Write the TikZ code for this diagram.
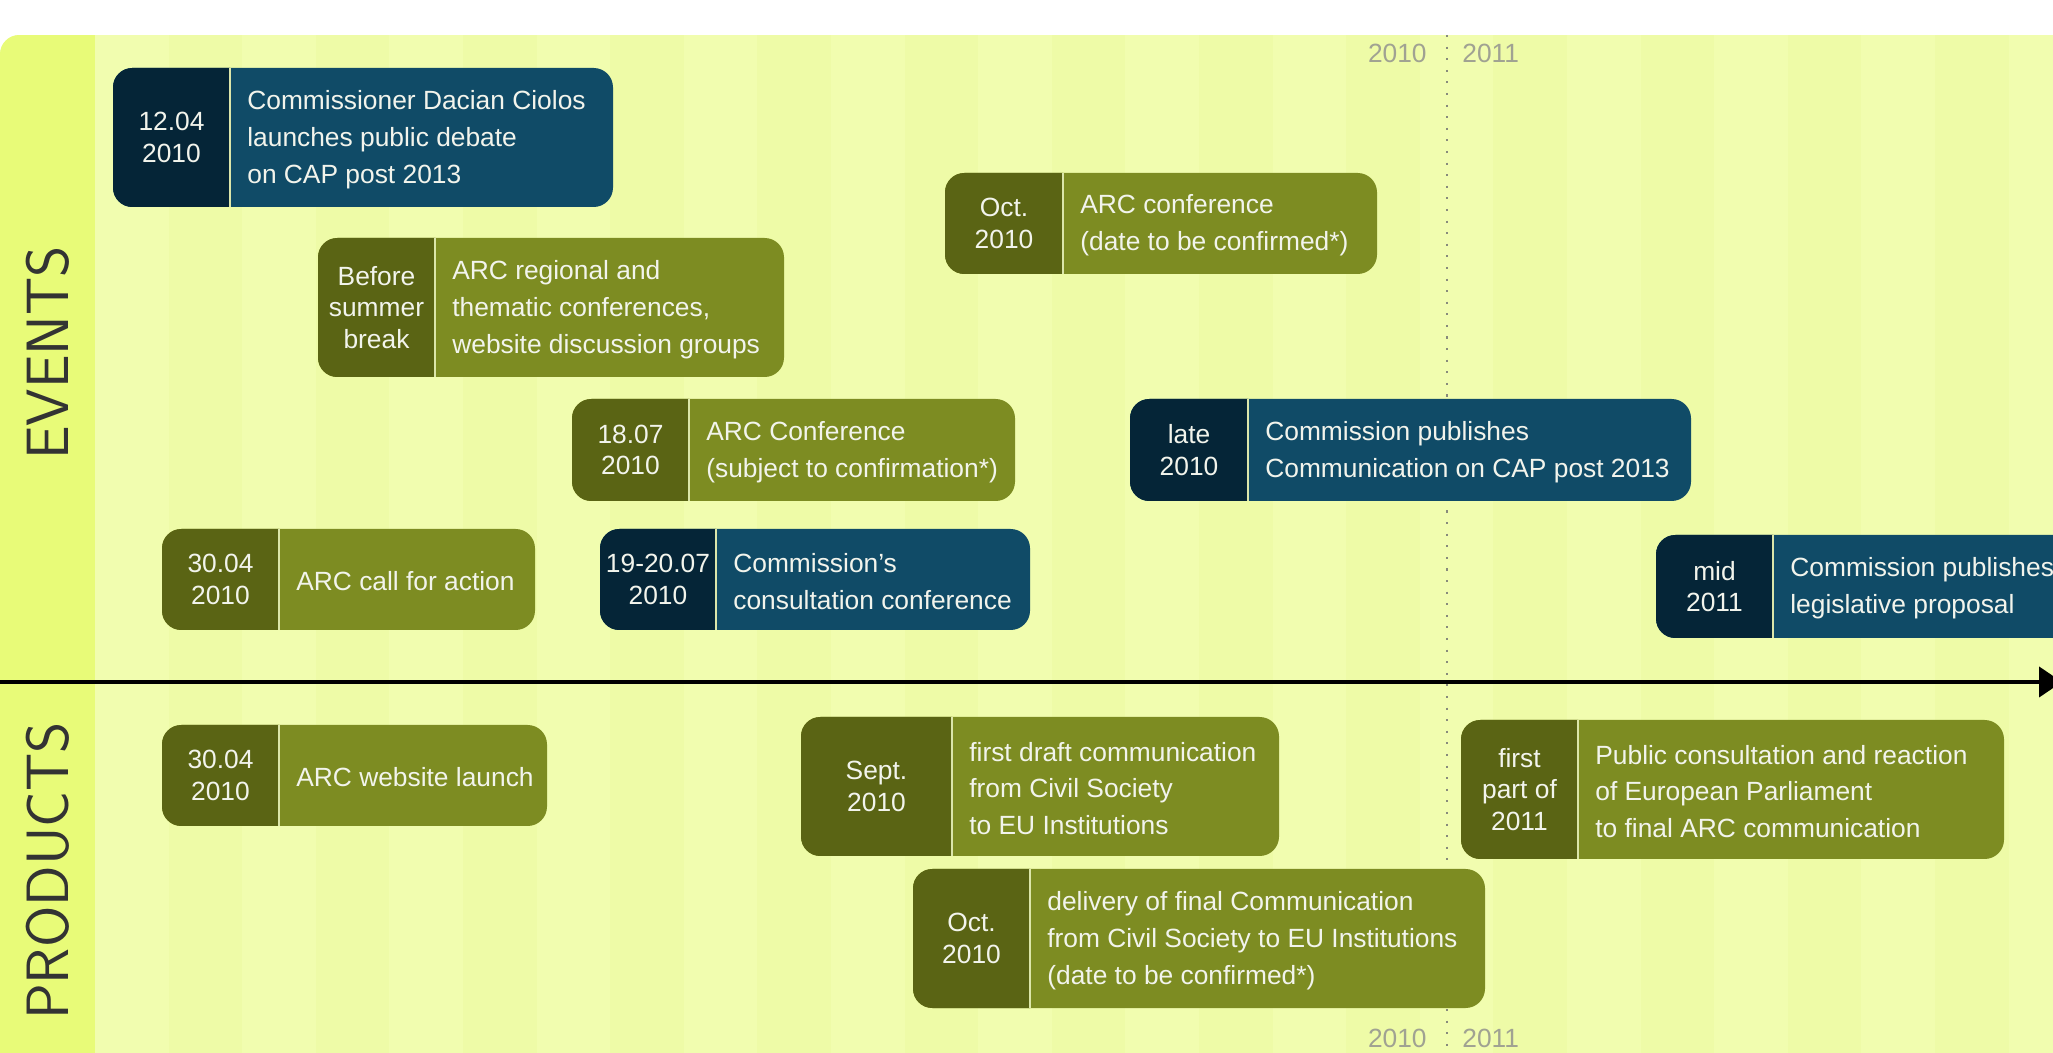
\documentclass[tikz,border=0pt]{standalone}
\usepackage{fontspec}
\setmainfont{Liberation Sans}
\usetikzlibrary{arrows.meta}

\definecolor{blueL}{HTML}{104B67}
\definecolor{blueD}{HTML}{052537}
\definecolor{greenL}{HTML}{7D8C22}
\definecolor{greenD}{HTML}{5A6414}
\definecolor{colyellow}{HTML}{E8FB78}
\definecolor{panelbg}{HTML}{F1FDAF}
\definecolor{stripebg}{HTML}{EEFBA7}
\definecolor{divcol}{HTML}{DCE6AA}
\definecolor{boxwhite}{HTML}{F2F4EC}
\definecolor{yeargray}{HTML}{A0A292}

% one timeline box: name, x left, x divider, x right, y top, y bottom, colour, date, text
\newcommand{\tlbox}[9]{%
  \fill[#7L, rounded corners=11pt] (#2,#5) rectangle (#4,#6);
  \begin{scope}
    \clip (#2,#5) rectangle (#3,#6);
    \fill[#7D, rounded corners=11pt] (#2,#5) rectangle (#4,#6);
  \end{scope}
  \draw[divider] (#3,#5) -- (#3,#6);
  \node[datetxt] (#1date) at ({(#2+#3)/2},{(#5+#6)/2}) {#8};
  \node[boxtxt] (#1text) at ({#3+17},{(#5+#6)/2+2}) {#9};
}

\begin{document}
\begin{tikzpicture}[x=0.02cm, y=-0.02cm,
    boxtxt/.style={anchor=west, align=left, inner sep=0pt, text=boxwhite,
      font=\fontsize{15}{21}\selectfont},
    datetxt/.style={align=center, inner sep=0pt, text=boxwhite,
      font=\fontsize{15}{18}\selectfont},
    divider/.style={draw=divcol, line width=1.1pt},
    sidelabel/.style={rotate=90, inner sep=0pt, text=black!80,
      font=\sffamily\fontsize{34}{34}\selectfont},
    yeartxt/.style={inner sep=0pt, text=yeargray, font=\fontsize{15}{18}\selectfont}]
  \useasboundingbox (0,0) rectangle (2053,1053);

  % panel, stripes and side column
  \begin{scope}
    \clip[rounded corners=11pt] (0,35) rectangle (2120,1120);
    \fill[panelbg] (0,35) rectangle (2120,1120);
    \foreach \i in {1,3,...,27}
      \fill[stripebg] ({95+73.6*\i},35) rectangle ++(73.6,1100);
    \fill[colyellow] (0,35) rectangle (95,1120);
  \end{scope}

  \node[sidelabel] (events) at (48,353) {EVENTS};
  \node[sidelabel] (products) at (48,871) {PRODUCTS};

  % year change
  \coordinate (yeartop) at (1447,35);
  \coordinate (yearbot) at (1447,1060);
  \draw[yeargray!85!black, line width=1.1pt, dash pattern=on 1.2pt off 5.4pt] (yeartop) -- (yearbot);
  \node[yeartxt, anchor=base east] (y10top) at (1427,63) {2010};
  \node[yeartxt, anchor=base west] (y11top) at (1462,63) {2011};
  \node[yeartxt, anchor=base east] (y10bot) at (1427,1047) {2010};
  \node[yeartxt, anchor=base west] (y11bot) at (1462,1047) {2011};

  % time axis
  \coordinate (axisstart) at (0,682);
  \coordinate (axisend) at (2062,682);
  \draw[line width=2.3pt, -{Triangle[length=13pt, width=17pt]}] (axisstart) -- (axisend);

  % events
  \tlbox{debate}{113}{230}{613}{68}{207}{blue}{12.04\\2010}{Commissioner Dacian Ciolos\\launches public debate\\on CAP post 2013}
  \tlbox{arcconf}{945}{1063}{1377}{173}{274}{green}{Oct.\\2010}{ARC conference\\(date to be confirmed*)}
  \tlbox{regional}{318}{435}{784}{238}{377}{green}{Before\\summer\\break}{ARC regional and\\thematic conferences,\\website discussion groups}
  \tlbox{conference}{572}{689}{1015}{399}{501}{green}{18.07\\2010}{ARC Conference\\(subject to confirmation*)}
  \tlbox{communication}{1130}{1248}{1691}{399}{501}{blue}{late\\2010}{Commission publishes\\Communication on CAP post 2013}
  \tlbox{callaction}{162}{279}{535}{529}{630}{green}{30.04\\2010}{ARC call for action}
  \tlbox{consultation}{600}{716}{1030}{529}{630}{blue}{19-20.07\\2010}{Commission's\\consultation conference}
  \tlbox{legislative}{1656}{1773}{2120}{535}{638}{blue}{mid\\2011}{Commission publishes\\legislative proposal}

  % products
  \tlbox{website}{162}{279}{547}{725}{826}{green}{30.04\\2010}{ARC website launch}
  \tlbox{draft}{801}{952}{1279}{717}{856}{green}{Sept.\\2010}{first draft communication\\from Civil Society\\to EU Institutions}
  \tlbox{reaction}{1461}{1578}{2004}{720}{859}{green}{first\\part of\\2011}{Public consultation and reaction\\of European Parliament\\to final ARC communication}
  \tlbox{delivery}{913}{1030}{1485}{869}{1008}{green}{Oct.\\2010}{delivery of final Communication\\from Civil Society to EU Institutions\\(date to be confirmed*)}
\end{tikzpicture}
\end{document}
